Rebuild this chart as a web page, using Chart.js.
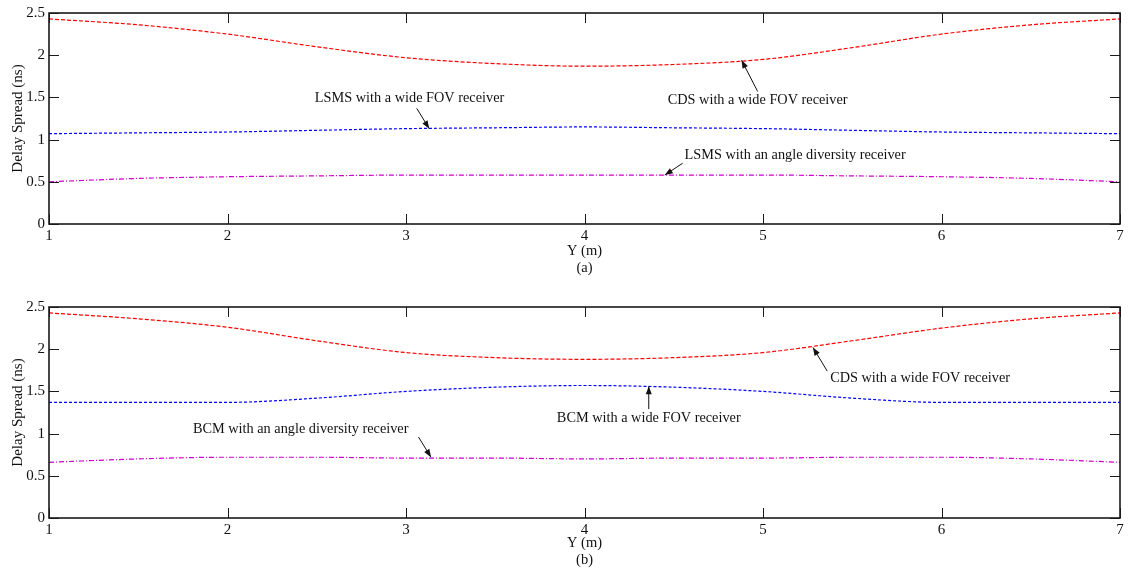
<!DOCTYPE html>
<html>
<head>
<meta charset="utf-8">
<script src="https://cdn.jsdelivr.net/npm/chart.js@4.4.1/dist/chart.umd.min.js"></script>
<style>
  body { margin: 0; background: #fff; }
  .panel { position: absolute; left: 0; width: 1129px; }
</style>
</head>
<body>
<div class="panel" style="top:0;height:285px"><canvas id="chartA" width="1129" height="285"></canvas></div>
<div class="panel" style="top:285px;height:286px"><canvas id="chartB" width="1129" height="286"></canvas></div>
<script>
// receiver position along the room (m)
var yPos = [1, 1.5, 2, 2.5, 3, 3.5, 4, 4.5, 5, 5.5, 6, 6.5, 7];
var xTicks = [1, 2, 3, 4, 5, 6, 7];
var yTicks = [0, 0.5, 1, 1.5, 2, 2.5];

// panel (a)
var cdsWideA     = [2.43, 2.36, 2.25, 2.10, 1.97, 1.90, 1.87, 1.89, 1.95, 2.09, 2.25, 2.36, 2.43];
var lsmsWide     = [1.07, 1.08, 1.09, 1.11, 1.13, 1.14, 1.15, 1.14, 1.13, 1.11, 1.09, 1.08, 1.07];
var lsmsAngle    = [0.50, 0.54, 0.56, 0.57, 0.58, 0.58, 0.58, 0.58, 0.58, 0.57, 0.56, 0.54, 0.50];

// panel (b)
var cdsWideB     = [2.43, 2.36, 2.26, 2.10, 1.96, 1.90, 1.88, 1.90, 1.96, 2.10, 2.25, 2.36, 2.43];
var bcmWide      = [1.37, 1.37, 1.37, 1.42, 1.50, 1.55, 1.57, 1.55, 1.50, 1.42, 1.37, 1.37, 1.37];
var bcmAngle     = [0.66, 0.70, 0.72, 0.72, 0.71, 0.71, 0.70, 0.71, 0.71, 0.72, 0.72, 0.70, 0.66];

var FONT = '"Liberation Serif", "Times New Roman", serif';

function pts(vals) {
  return yPos.map(function (x, i) { return { x: x, y: vals[i] }; });
}

function series(vals, color, dash) {
  return {
    data: pts(vals),
    borderColor: color,
    borderWidth: 1.2,
    borderDash: dash,
    pointRadius: 0,
    fill: false,
    cubicInterpolationMode: 'monotone'
  };
}

// box round the plot area with inward ticks, MATLAB style
var framePlugin = {
  id: 'frame',
  afterDraw: function (chart) {
    var ctx = chart.ctx, a = chart.chartArea;
    var sx = chart.scales.x, sy = chart.scales.y;
    ctx.save();
    ctx.strokeStyle = '#1a1a1a';
    ctx.lineWidth = 1;
    ctx.beginPath();
    xTicks.forEach(function (v) {
      var px = Math.round(sx.getPixelForValue(v)) + 0.5;
      ctx.moveTo(px, a.bottom); ctx.lineTo(px, a.bottom - 10);
      ctx.moveTo(px, a.top); ctx.lineTo(px, a.top + 10);
    });
    yTicks.forEach(function (v) {
      var py = Math.round(sy.getPixelForValue(v)) + 0.5;
      ctx.moveTo(a.left, py); ctx.lineTo(a.left + 10, py);
      ctx.moveTo(a.right, py); ctx.lineTo(a.right - 10, py);
    });
    ctx.stroke();
    ctx.lineWidth = 1.6;
    ctx.strokeRect(a.left, a.top, a.right - a.left, a.bottom - a.top);
    ctx.restore();
  }
};

// text labels with arrows pointing at the curves
var notesPlugin = {
  id: 'notes',
  afterDatasetsDraw: function (chart, args, opts) {
    var ctx = chart.ctx, sx = chart.scales.x, sy = chart.scales.y;
    ctx.save();
    ctx.font = '14.3px ' + FONT;
    ctx.fillStyle = '#111';
    ctx.strokeStyle = '#111';
    ctx.lineWidth = 1;
    ctx.textAlign = 'center';
    ctx.textBaseline = 'middle';
    (opts.items || []).forEach(function (n) {
      ctx.fillText(n.text, sx.getPixelForValue(n.tx), sy.getPixelForValue(n.ty));
      var x0 = sx.getPixelForValue(n.fx), y0 = sy.getPixelForValue(n.fy);
      var x1 = sx.getPixelForValue(n.x), y1 = sy.getPixelForValue(n.y);
      var ang = Math.atan2(y1 - y0, x1 - x0);
      ctx.beginPath();
      ctx.moveTo(x0, y0); ctx.lineTo(x1, y1);
      ctx.stroke();
      // arrow head
      ctx.beginPath();
      ctx.moveTo(x1, y1);
      ctx.lineTo(x1 - 8 * Math.cos(ang) + 3 * Math.sin(ang), y1 - 8 * Math.sin(ang) - 3 * Math.cos(ang));
      ctx.lineTo(x1 - 8 * Math.cos(ang) - 3 * Math.sin(ang), y1 - 8 * Math.sin(ang) + 3 * Math.cos(ang));
      ctx.closePath();
      ctx.fill();
    });
    ctx.restore();
  }
};

function makeChart(id, datasets, caption, topPad, xAxisH, capPad, notes) {
  return new Chart(document.getElementById(id), {
    type: 'line',
    data: { datasets: datasets },
    plugins: [framePlugin, notesPlugin],
    options: {
      responsive: false,
      animation: false,
      layout: { padding: { top: topPad, right: 9, left: 0, bottom: 0 } },
      plugins: {
        legend: { display: false },
        tooltip: { enabled: false },
        notes: { items: notes }
      },
      scales: {
        x: {
          type: 'linear',
          min: 1, max: 7,
          afterBuildTicks: function (s) { s.ticks = xTicks.map(function (v) { return { value: v }; }); },
          afterFit: function (s) { s.height = xAxisH; },
          grid: { display: false, drawTicks: false },
          border: { display: false },
          ticks: { padding: 3, color: '#111', font: { family: FONT, size: 15 }, maxRotation: 0,
                   callback: function (v) { return String(v); } },
          title: {
            display: true,
            text: ['Y (m)', caption],
            color: '#111',
            font: { family: FONT, size: 14.5, lineHeight: 17 / 14.5 },
            padding: { top: 0, bottom: capPad }
          }
        },
        y: {
          min: 0, max: 2.5,
          afterBuildTicks: function (s) { s.ticks = yTicks.map(function (v) { return { value: v }; }); },
          afterFit: function (s) { s.width = 49; },
          grid: { display: false, drawTicks: false },
          border: { display: false },
          ticks: { padding: 4, color: '#111', font: { family: FONT, size: 15 },
                   callback: function (v) { return String(v); } },
          title: {
            display: true,
            text: 'Delay Spread (ns)',
            color: '#111',
            font: { family: FONT, size: 15, lineHeight: 1.2 },
            padding: { top: 9, bottom: 0 }
          }
        }
      }
    }
  });
}

makeChart('chartA', [
  series(cdsWideA, '#ff0000', [4, 2]),
  series(lsmsWide, '#0000ff', [3, 2]),
  series(lsmsAngle, '#cc00cc', [5, 2, 1, 2])
], '(a)', 13, 61, 8.5, [
  { text: 'LSMS with a wide FOV receiver', tx: 3.02, ty: 1.49, fx: 3.06, fy: 1.37, x: 3.13, y: 1.13 },
  { text: 'CDS with a wide FOV receiver', tx: 4.97, ty: 1.47, fx: 4.97, fy: 1.57, x: 4.88, y: 1.94 },
  { text: 'LSMS with an angle diversity receiver', tx: 5.18, ty: 0.82, fx: 4.55, fy: 0.72, x: 4.45, y: 0.58 }
]);

makeChart('chartB', [
  series(cdsWideB, '#ff0000', [4, 2]),
  series(bcmWide, '#0000ff', [3, 2]),
  series(bcmAngle, '#cc00cc', [5, 2, 1, 2])
], '(b)', 22, 53, 2.5, [
  { text: 'CDS with a wide FOV receiver', tx: 5.88, ty: 1.65, fx: 5.36, fy: 1.74, x: 5.28, y: 2.02 },
  { text: 'BCM with a wide FOV receiver', tx: 4.36, ty: 1.18, fx: 4.36, fy: 1.29, x: 4.36, y: 1.56 },
  { text: 'BCM with an angle diversity receiver', tx: 2.41, ty: 1.05, fx: 3.07, fy: 0.96, x: 3.14, y: 0.72 }
]);
</script>
</body>
</html>
